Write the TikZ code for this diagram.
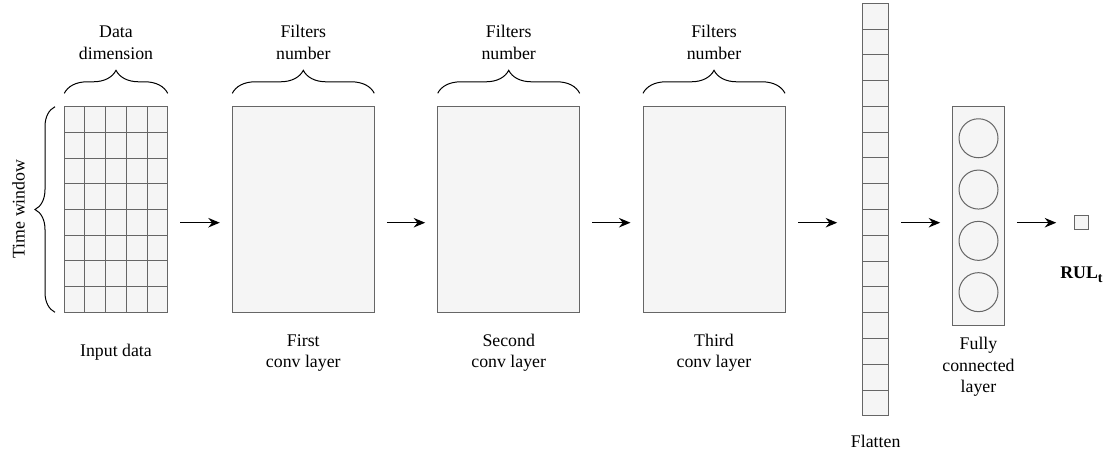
\documentclass[tikz,border=0pt]{standalone}
\usepackage{fontspec}
\setmainfont{Liberation Serif}
\usepackage{xcolor}
\usepackage{tikz}
\usetikzlibrary{arrows.meta,positioning,decorations.pathreplacing}
\definecolor{cellfill}{HTML}{F5F5F5}
\definecolor{cellline}{HTML}{666666}

\begin{document}
\begin{tikzpicture}[
    x=1pt, y=-1pt,
    every node/.style={font=\fontsize{17.8}{21.3}\selectfont, inner sep=0pt, outer sep=0pt},
    layer/.style={draw=cellline, fill=cellfill, line width=1pt, minimum width=142pt, minimum height=205.6pt},
    cell/.style={draw=cellline, fill=cellfill, line width=1pt, minimum width=26pt, minimum height=25.78pt},
    neuron/.style={draw=cellline, fill=cellfill, circle, line width=1pt, minimum size=39pt},
    gridline/.style={draw=cellline, line width=1pt},
    caption/.style={align=center},
    brace/.style={decorate, decoration={brace, amplitude=23pt}, line width=1pt},
    arrow/.style={-{Stealth[length=11.5pt, width=9.5pt]}, line width=1.3pt, shorten <=12.5pt, shorten >=12.5pt}
]

\useasboundingbox (0,0) rectangle (1112,456);

% input window
\node[layer, minimum width=103.4pt] (input) at (116,209.5) {};
\foreach \c in {1,...,4}
  \draw[gridline] ([xshift=\c*20.68pt]input.north west) -- ([xshift=\c*20.68pt]input.south west);
\foreach \r in {1,...,7}
  \draw[gridline] ([yshift=-\r*25.7pt]input.north west) -- ([yshift=-\r*25.7pt]input.north east);

% conv layers
\node[layer, right=64.6pt of input] (first) {};
\node[layer, right=63.4pt of first] (second) {};
\node[layer, right=63.3pt of second] (third) {};

% flatten column
\foreach \i in {1,...,16}
  \node[cell] (flat\i) at (875.7, {3.3+25.78*(\i-0.5)}) {};

% fully connected layer
\node[layer, minimum width=51.6pt, minimum height=218.3pt] (fc) at (978.5,215.9) {};
\node[neuron, below=12pt of fc.north] (n1) {};
\foreach \i [remember=\i as \j (initially 1)] in {2,3,4}
  \node[neuron, below=12.3pt of n\j] (n\i) {};

% output
\node[draw=cellline, fill=cellfill, line width=1pt, minimum size=13.5pt] (rul) at (1081.5,222.7) {};

% braces
\draw[brace] ([yshift=13.4pt]input.north west) -- ([yshift=13.4pt]input.north east)
  node[caption, midway, above=34pt] (inputtop) {Data\\dimension};
\draw[brace] ([yshift=13.4pt]first.north west) -- ([yshift=13.4pt]first.north east)
  node[caption, midway, above=34pt] (firsttop) {Filters\\number};
\draw[brace] ([yshift=13.4pt]second.north west) -- ([yshift=13.4pt]second.north east)
  node[caption, midway, above=34pt] (secondtop) {Filters\\number};
\draw[brace] ([yshift=13.4pt]third.north west) -- ([yshift=13.4pt]third.north east)
  node[caption, midway, above=34pt] (thirdtop) {Filters\\number};
\draw[brace, decoration={amplitude=20pt}] ([xshift=-9.3pt]input.south west) -- ([xshift=-9.3pt]input.north west);
\node[rotate=90] (timelbl) at (18.5,209) {Time window};

% captions
\node[caption, below=32pt of input] (inputlbl) {Input data};
\node[caption, below=22pt of first] (firstlbl) {First\\conv layer};
\node[caption, below=22pt of second] (secondlbl) {Second\\conv layer};
\node[caption, below=22pt of third] (thirdlbl) {Third\\conv layer};
\node[caption, below=19.3pt of flat16] (flatlbl) {Flatten};
\node[caption, below=12.5pt of fc] (fclbl) {Fully\\connected\\layer};
\node[caption, below=37pt of rul] (rullbl) {\textbf{RUL\raisebox{-4pt}{\fontsize{14}{14}\selectfont t}}};

% connectors
\draw[arrow] (input.east |- rul) -- (first.west |- rul);
\draw[arrow] (first.east |- rul) -- (second.west |- rul);
\draw[arrow] (second.east |- rul) -- (third.west |- rul);
\draw[arrow, shorten <=13pt, shorten >=25.5pt] (third.east |- rul) -- (flat1.west |- rul);
\draw[arrow] (flat1.east |- rul) -- (fc.west |- rul);
\draw[arrow, shorten >=18.5pt] (fc.east |- rul) -- (rul);

\end{tikzpicture}
\end{document}
